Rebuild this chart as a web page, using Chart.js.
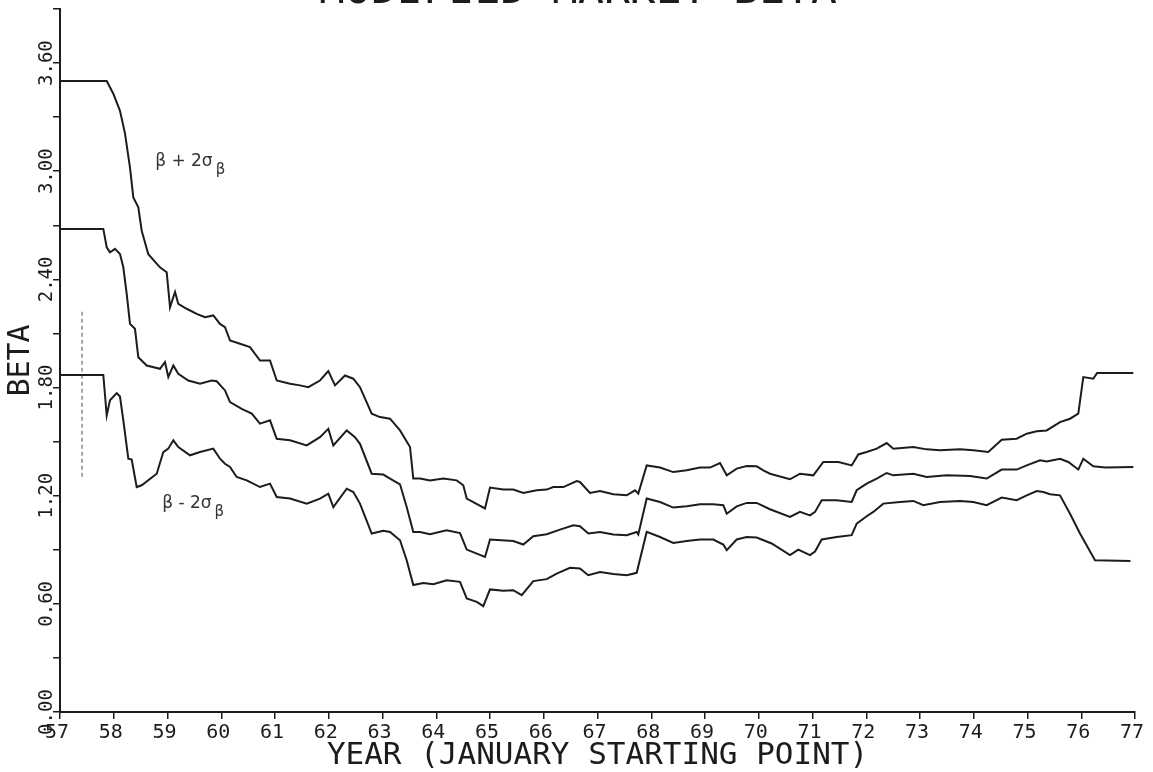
<!DOCTYPE html>
<html><head><meta charset="utf-8">
<script src="https://cdn.jsdelivr.net/npm/chart.js@4.4.1/dist/chart.umd.min.js"></script>
<style>html,body{margin:0;padding:0;background:#fff;}canvas{display:block;}</style>
</head><body>
<canvas id="c" width="1153" height="772"></canvas>
<script>
// ---- data ----
const upperYears = [57.000,57.869,57.992,58.116,58.209,58.302,58.364,58.457,58.520,58.643,58.860,58.985,59.047,59.140,59.201,59.357,59.543,59.698,59.852,59.977,60.070,60.163,60.349,60.535,60.721,60.907,61.032,61.279,61.465,61.620,61.837,61.992,62.116,62.302,62.457,62.581,62.799,62.953,63.140,63.326,63.512,63.573,63.698,63.884,64.131,64.380,64.503,64.567,64.907,65.000,65.247,65.433,65.619,65.869,66.055,66.178,66.364,66.613,66.674,66.860,67.047,67.294,67.543,67.698,67.759,67.915,68.163,68.410,68.660,68.907,69.093,69.279,69.404,69.590,69.776,69.962,70.085,70.209,70.581,70.767,71.015,71.201,71.480,71.729,71.852,72.008,72.195,72.380,72.503,72.875,73.124,73.372,73.744,73.992,74.271,74.520,74.799,74.985,75.171,75.357,75.605,75.791,75.945,76.038,76.224,76.294,76.969];
const upperBeta  = [3.50,3.50,3.43,3.335,3.21,3.02,2.855,2.80,2.67,2.54,2.467,2.44,2.245,2.33,2.264,2.237,2.209,2.19,2.20,2.153,2.135,2.061,2.043,2.024,1.95,1.95,1.839,1.821,1.812,1.802,1.839,1.891,1.812,1.867,1.849,1.802,1.655,1.636,1.627,1.562,1.47,1.295,1.295,1.285,1.295,1.285,1.258,1.184,1.129,1.245,1.234,1.234,1.215,1.23,1.234,1.248,1.248,1.281,1.276,1.215,1.226,1.208,1.202,1.23,1.212,1.368,1.356,1.331,1.341,1.356,1.356,1.381,1.313,1.35,1.365,1.363,1.341,1.322,1.291,1.322,1.313,1.387,1.387,1.368,1.429,1.442,1.461,1.492,1.461,1.47,1.457,1.452,1.457,1.452,1.442,1.51,1.516,1.544,1.558,1.562,1.608,1.627,1.655,1.858,1.849,1.88,1.88];

const midYears = [57.000,57.806,57.869,57.930,58.023,58.116,58.178,58.241,58.302,58.395,58.457,58.613,58.860,58.953,59.015,59.108,59.201,59.387,59.605,59.822,59.915,60.070,60.163,60.381,60.567,60.721,60.907,61.032,61.279,61.590,61.837,61.992,62.085,62.334,62.488,62.581,62.799,63.015,63.140,63.326,63.450,63.573,63.698,63.884,64.194,64.442,64.567,64.907,65.000,65.433,65.619,65.806,66.055,66.302,66.550,66.674,66.829,67.047,67.294,67.543,67.729,67.759,67.915,68.163,68.410,68.660,68.907,69.154,69.340,69.404,69.590,69.776,69.962,70.209,70.581,70.767,70.953,71.047,71.171,71.450,71.729,71.822,72.008,72.195,72.380,72.503,72.875,73.124,73.496,73.930,74.241,74.520,74.799,74.985,75.233,75.357,75.605,75.759,75.945,76.038,76.224,76.450,76.969];
const midBeta  = [2.68,2.68,2.578,2.55,2.569,2.541,2.467,2.32,2.153,2.126,1.968,1.922,1.904,1.941,1.858,1.922,1.876,1.839,1.821,1.839,1.835,1.784,1.719,1.682,1.655,1.60,1.618,1.516,1.507,1.479,1.525,1.571,1.479,1.562,1.525,1.488,1.322,1.317,1.295,1.263,1.137,0.999,0.999,0.986,1.008,0.993,0.901,0.86,0.957,0.949,0.929,0.975,0.986,1.012,1.036,1.031,0.99,0.999,0.985,0.981,0.999,0.985,1.184,1.165,1.134,1.141,1.152,1.152,1.147,1.10,1.141,1.16,1.16,1.125,1.082,1.11,1.091,1.11,1.175,1.175,1.165,1.23,1.267,1.295,1.326,1.313,1.322,1.304,1.313,1.309,1.295,1.345,1.345,1.368,1.396,1.39,1.405,1.387,1.345,1.405,1.363,1.356,1.359];

const lowerYears = [57.000,57.806,57.869,57.930,58.055,58.116,58.178,58.271,58.334,58.427,58.520,58.799,58.922,59.015,59.108,59.201,59.419,59.605,59.852,59.977,60.070,60.163,60.287,60.474,60.721,60.907,61.032,61.279,61.590,61.837,61.992,62.085,62.334,62.457,62.581,62.799,63.015,63.140,63.326,63.450,63.573,63.759,63.945,64.194,64.442,64.567,64.753,64.875,65.000,65.247,65.433,65.590,65.806,66.055,66.241,66.488,66.674,66.829,67.047,67.294,67.543,67.729,67.915,68.163,68.410,68.660,68.907,69.154,69.340,69.404,69.590,69.776,69.962,70.240,70.581,70.736,70.953,71.047,71.171,71.450,71.729,71.822,72.008,72.131,72.317,72.628,72.875,73.061,73.372,73.744,73.992,74.241,74.520,74.799,74.985,75.171,75.294,75.419,75.605,75.791,75.977,76.256,76.915];
const lowerBeta  = [1.87,1.87,1.645,1.729,1.769,1.75,1.618,1.405,1.40,1.248,1.258,1.322,1.442,1.461,1.507,1.47,1.424,1.442,1.461,1.405,1.377,1.359,1.304,1.285,1.248,1.267,1.193,1.184,1.156,1.184,1.211,1.137,1.239,1.22,1.156,0.99,1.006,0.999,0.953,0.842,0.704,0.716,0.709,0.731,0.722,0.63,0.611,0.587,0.68,0.672,0.676,0.648,0.726,0.737,0.768,0.80,0.796,0.759,0.777,0.765,0.759,0.772,0.999,0.971,0.938,0.949,0.957,0.957,0.929,0.898,0.957,0.971,0.968,0.935,0.87,0.901,0.87,0.89,0.957,0.971,0.981,1.045,1.086,1.11,1.156,1.165,1.171,1.147,1.165,1.171,1.165,1.147,1.19,1.175,1.202,1.226,1.22,1.208,1.202,1.10,0.99,0.842,0.838];

// stray pen mark near the left axis
const markYears = [57.41, 57.41];
const markBeta  = [2.22, 1.30];

const xTickValues = [57,58,59,60,61,62,63,64,65,66,67,68,69,70,71,72,73,74,75,76,77];
const xTickLabels = ['57','58','59','60','61','62','63','64','65','66','67','68','69','70','71','72','73','74','75','76','77'];
const yTickValues = [0,0.3,0.6,0.9,1.2,1.5,1.8,2.1,2.4,2.7,3.0,3.3,3.6,3.9];
const yTickLabels = ['0.00','','0.60','','1.20','','1.80','','2.40','','3.00','','3.60',''];

const chartTitle = 'MODIFIED MARKET BETA';
const xTitle = 'YEAR (JANUARY STARTING POINT)';
const yTitle = 'BETA';
const upperLabel = ['β + 2σ', 'β'];
const lowerLabel = ['β - 2σ', 'β'];

// ---- layout / style (not data) ----
const labelAnchors = { upper: {x: 58.77, y: 3.03}, lower: {x: 58.90, y: 1.13} };
const INK = '#1c1c1c';
const MONO = '"DejaVu Sans Mono", "Liberation Mono", monospace';

const toXY = (xs, ys) => xs.map((x, i) => ({x: x, y: ys[i]}));

const overlay = {
  id: 'overlay',
  afterDraw(chart) {
    const ctx = chart.ctx;
    const xs = chart.scales.x, ys = chart.scales.y;
    ctx.save();
    ctx.fillStyle = INK;
    // title, mostly cut off by the top edge as in the scan
    ctx.font = '43px ' + MONO;
    ctx.textAlign = 'center';
    ctx.textBaseline = 'alphabetic';
    ctx.fillText(chartTitle, 578, 3);
    // curve labels with subscripts
    const drawLab = (lab, pos) => {
      const px = xs.getPixelForValue(pos.x), py = ys.getPixelForValue(pos.y);
      ctx.fillStyle = '#333';
      ctx.textAlign = 'left';
      ctx.font = '17px "DejaVu Sans", sans-serif';
      ctx.fillText(lab[0], px, py);
      const w = ctx.measureText(lab[0]).width;
      ctx.font = '15px "DejaVu Sans", sans-serif';
      ctx.fillText(lab[1], px + w + 3, py + 8);
    };
    drawLab(upperLabel, labelAnchors.upper);
    drawLab(lowerLabel, labelAnchors.lower);
    ctx.restore();
  }
};

const lineDs = (xs, ys) => ({
  data: toXY(xs, ys), borderColor: INK, borderWidth: 2, pointRadius: 0,
  tension: 0, fill: false
});

new Chart(document.getElementById('c'), {
  type: 'line',
  data: {
    datasets: [
      lineDs(upperYears, upperBeta),
      lineDs(midYears, midBeta),
      lineDs(lowerYears, lowerBeta),
      { data: toXY(markYears, markBeta), borderColor: '#8a8a8a', borderWidth: 1.5,
        borderDash: [4, 3], pointRadius: 0 }
    ]
  },
  options: {
    responsive: false, animation: false,
    layout: { padding: { top: 9, right: 18, left: 0, bottom: 0 } },
    plugins: { legend: { display: false }, tooltip: { enabled: false } },
    scales: {
      x: {
        type: 'linear', min: 57, max: 77,
        afterBuildTicks: s => { s.ticks = xTickValues.map(v => ({value: v})); },
        afterFit: s => { s.height = 60; },
        border: { display: true, color: INK, width: 2 },
        grid: { drawOnChartArea: false, drawTicks: true, tickLength: 7, color: INK, lineWidth: 1.5 },
        ticks: { color: INK, font: { family: MONO, size: 20 }, padding: 2, labelOffset: -3,
                 maxRotation: 0, minRotation: 0, autoSkip: false,
                 callback: (v, i) => xTickLabels[i] },
        title: { display: true, text: xTitle, color: INK,
                 font: { family: MONO, size: 31, lineHeight: 1 }, padding: { top: 0, bottom: 1 } }
      },
      y: {
        type: 'linear', min: 0, max: 3.9,
        afterBuildTicks: s => { s.ticks = yTickValues.map(v => ({value: v})); },
        afterFit: s => { s.width = 60; },
        border: { display: true, color: INK, width: 2 },
        grid: { drawOnChartArea: false, drawTicks: true, tickLength: 7, color: INK, lineWidth: 1.5 },
        ticks: { color: INK, font: { family: MONO, size: 19 }, padding: -17,
                 minRotation: 90, maxRotation: 90, crossAlign: 'center', autoSkip: false,
                 callback: (v, i) => yTickLabels[i] },
        title: { display: true, text: yTitle, color: INK,
                 font: { family: MONO, size: 30, lineHeight: 1 }, padding: { top: 6, bottom: 0 } }
      }
    }
  },
  plugins: [overlay]
});
</script>
</body></html>
